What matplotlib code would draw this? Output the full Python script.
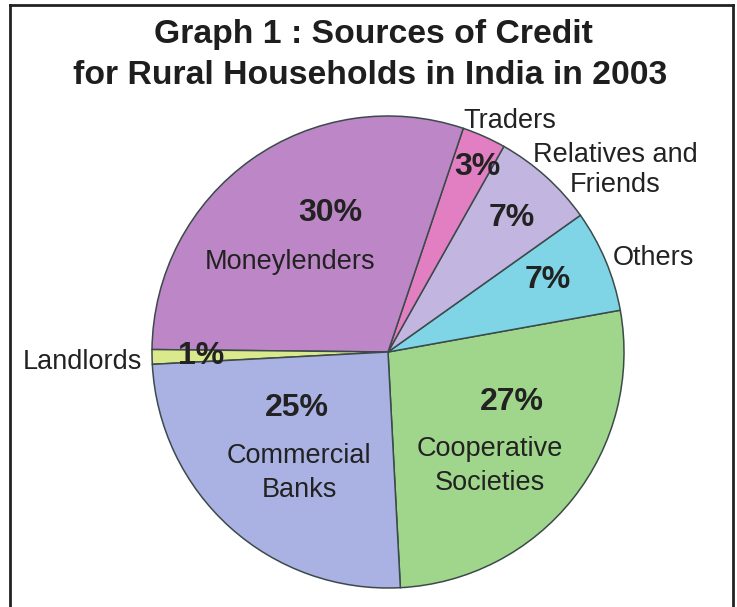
import matplotlib.pyplot as plt
from matplotlib.lines import Line2D

sources = ["Cooperative\nSocieties", "Others", "Relatives and\nFriends", "Traders",
           "Moneylenders", "Landlords", "Commercial\nBanks"]
shares = [27, 7, 7, 3, 30, 1, 25]
slice_colors = ["#9fd68c", "#7fd5e6", "#c2b5e0", "#e27fc2", "#bd86c6", "#d9e98c", "#a9b2e2"]

plt.rcParams["font.family"] = ["Liberation Sans", "DejaVu Sans"]

fig = plt.figure(figsize=(7.37, 6.07), dpi=100)
ax = fig.add_axes([0, 0, 1, 1])

## pie in pixel-like data coords (y up)
cx, cy, r = 388, 607 - 352, 236
wedges, _ = ax.pie(shares, colors=slice_colors, startangle=-87, counterclock=True,
                   center=(cx, cy), radius=r, frame=True,
                   wedgeprops=dict(edgecolor="#3b4a4a", linewidth=1.1))
ax.set_xlim(0, 737)
ax.set_ylim(0, 607)
ax.set_aspect("equal")
ax.axis("off")

## frame around the graph (bottom is cut off)
fig.add_artist(Line2D([10 / 737, 10 / 737], [0, 1 - 5 / 607], transform=fig.transFigure, color="#222222", lw=2))
fig.add_artist(Line2D([733 / 737, 733 / 737], [0, 1 - 5 / 607], transform=fig.transFigure, color="#222222", lw=2))
fig.add_artist(Line2D([10 / 737, 733 / 737], [1 - 5 / 607, 1 - 5 / 607], transform=fig.transFigure, color="#222222", lw=2))

## title
ax.text(373, 607 - 34, "Graph 1 : Sources of Credit", ha="center", va="center",
        fontsize=24.3, fontweight="bold", color="#1e1e1e")
ax.text(370, 607 - 76, "for Rural Households in India in 2003", ha="center", va="center",
        fontsize=24.3, fontweight="bold", color="#1e1e1e")

## percentage labels (bold) and category names, placed by hand like the print
pct_pos = [(512, 402), (548, 280), (512, 218), (477, 167), (330, 213), (201, 356), (297, 408)]
for v, (x, y) in zip(shares, pct_pos):
    ax.text(x, 607 - y, f"{v}%", ha="center", va="center", fontsize=23,
            fontweight="bold", color="#222222")

name_pos = [(490, 466, "center", 1.38), (653, 258, "center", 1.1), (615, 170, "center", 1.22),
            (510, 121, "center", 1.1), (290, 262, "center", 1.1), (142, 362, "right", 1.1),
            (299, 473, "center", 1.42)]
for name, (x, y, ha, ls) in zip(sources, name_pos):
    ax.text(x, 607 - y, name, ha=ha, va="center", fontsize=19.5, color="#222222",
            linespacing=ls)

plt.savefig("out.png", dpi=100)
